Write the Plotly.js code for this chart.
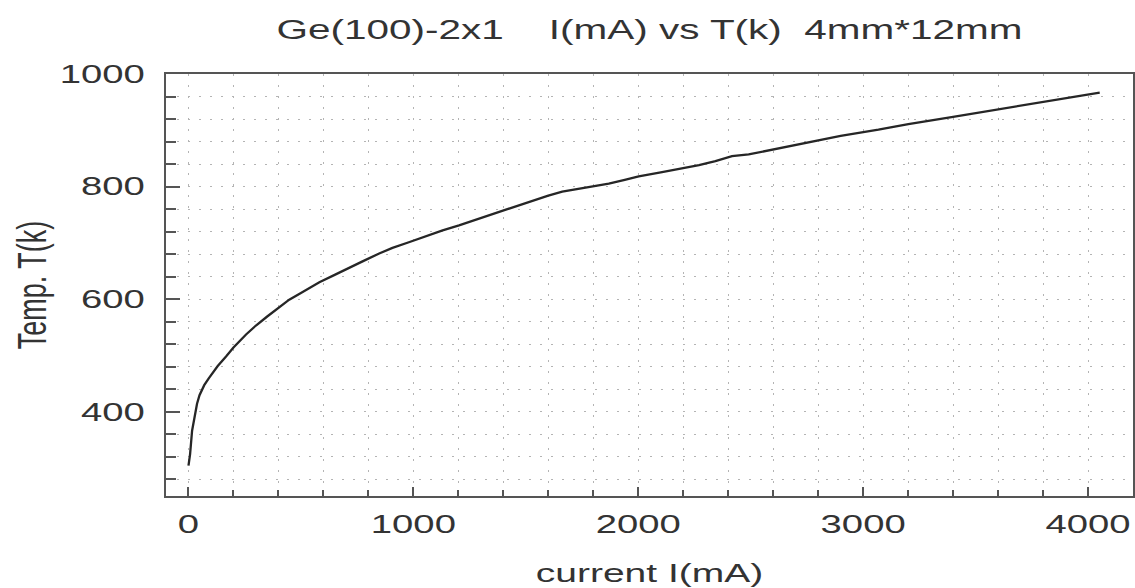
<!DOCTYPE html>
<html>
<head>
<meta charset="utf-8">
<script src="https://cdn.plot.ly/plotly-3.0.1.min.js"></script>
<style>
  html, body { margin: 0; padding: 0; background: #fff; }
  #chart { width: 1135px; height: 588px; }
</style>
</head>
<body>
<div id="chart"></div>
<script>
// Heating current (mA) vs sample temperature (K)
const currentMA = [0, 7, 16, 27, 38, 49, 70, 90, 108, 130, 167, 200, 256, 300, 350, 404, 448, 500, 582, 650, 700, 774, 848, 907, 980, 1055, 1130, 1203, 1300, 1395, 1460, 1529, 1600, 1662, 1720, 1780, 1825, 1869, 1940, 2002, 2100, 2195, 2270, 2343, 2385, 2417, 2491, 2600, 2713, 2801, 2900, 3068, 3201, 3400, 3600, 3800, 4052];
const tempK     = [304, 324, 366, 392, 414, 429, 447, 459, 469, 481, 498, 514, 537, 553, 569, 586, 599, 611, 630, 643, 653, 667, 681, 691, 701, 712, 722, 731, 744, 757, 766, 775, 784, 791, 795, 798, 801, 805, 812, 818, 825, 832, 838, 845, 850, 854, 857, 866, 875, 883, 890, 901, 911, 924, 937, 950, 967];

const chartTitle = "Ge(100)-2x1\u00A0\u00A0\u00A0\u00A0I(mA) vs T(k)\u00A0\u00A04mm*12mm";
const xTitle = "current I(mA)";
const yTitle = "Temp. T(k)";

const FONT = "Liberation Sans, Arial, sans-serif";
const frameColor = "#555555";
const gridColor = "#b4b4b4";
const gridDash = "2px,9px";

const trace = {
  x: currentMA,
  y: tempK,
  type: "scatter",
  mode: "lines",
  line: { color: "#262626", width: 2.3 },
  hoverinfo: "x+y",
  showlegend: false
};

const layout = {
  width: 1135,
  height: 588,
  paper_bgcolor: "#ffffff",
  plot_bgcolor: "#ffffff",
  margin: { l: 166, r: 2, t: 74, b: 92 },
  font: { family: FONT, color: "#333333" },
  title: {
    text: chartTitle,
    font: { family: FONT, size: 27, color: "#333333" },
    xref: "paper", x: 0.5, xanchor: "center",
    yref: "container", y: 1 - 30 / 588, yanchor: "middle"
  },
  xaxis: {
    range: [-100, 4200],
    tickmode: "linear", tick0: 0, dtick: 1000,
    ticks: "inside", ticklen: 9, tickwidth: 2, tickcolor: frameColor,
    tickfont: { family: FONT, size: 25.5, color: "#333333" },
    ticklabelstandoff: 4,
    showline: true, linecolor: frameColor, linewidth: 2, mirror: true,
    showgrid: true, gridcolor: gridColor, gridwidth: 1, griddash: gridDash,
    zeroline: false,
    minor: { dtick: 200, ticks: "inside", ticklen: 6, tickwidth: 2, tickcolor: frameColor,
             showgrid: true, gridcolor: gridColor, gridwidth: 1, griddash: gridDash },
    title: { text: xTitle, font: { family: FONT, size: 26, color: "#333333" }, standoff: 34 }
  },
  yaxis: {
    range: [250, 1000],
    tickmode: "linear", tick0: 0, dtick: 200,
    ticks: "inside", ticklen: 14, tickwidth: 2, tickcolor: frameColor,
    tickfont: { family: FONT, size: 25.5, color: "#333333" },
    ticklabelstandoff: 14,
    showline: true, linecolor: frameColor, linewidth: 2, mirror: true,
    showgrid: true, gridcolor: gridColor, gridwidth: 1, griddash: gridDash,
    zeroline: false,
    minor: { dtick: 40, ticks: "inside", ticklen: 10, tickwidth: 2, tickcolor: frameColor,
             showgrid: true, gridcolor: gridColor, gridwidth: 1, griddash: gridDash },
    title: { text: yTitle, font: { family: FONT, size: 27, color: "#333333" }, standoff: 38 }
  }
};

// The reference image is horizontally stretched; widen the text glyphs to match.
function stretchText(gd) {
  const k = 1.5;
  const targets = [
    [".gtitle", "c"],
    [".g-xtitle text", "c"],
    [".g-ytitle text", "c"],
    [".xtick text", "c"],
    [".ytick text", "r"]
  ];
  targets.forEach(([sel, mode]) => {
    gd.querySelectorAll(sel).forEach(el => {
      const rect = el.getBoundingClientRect();
      const ctm = el.parentNode.getScreenCTM();
      if (!ctm || rect.width === 0) return;
      const sx = mode === "r" ? rect.right : (rect.left + rect.right) / 2;
      const cx = (sx - ctm.e) / ctm.a;
      const existing = el.getAttribute("transform") || "";
      el.setAttribute("transform",
        `translate(${cx},0) scale(${k},1) translate(${-cx},0) ${existing}`);
    });
  });
}

const gd = document.getElementById("chart");
Plotly.newPlot(gd, [trace], layout, { displayModeBar: false })
  .then(stretchText);
</script>
</body>
</html>
